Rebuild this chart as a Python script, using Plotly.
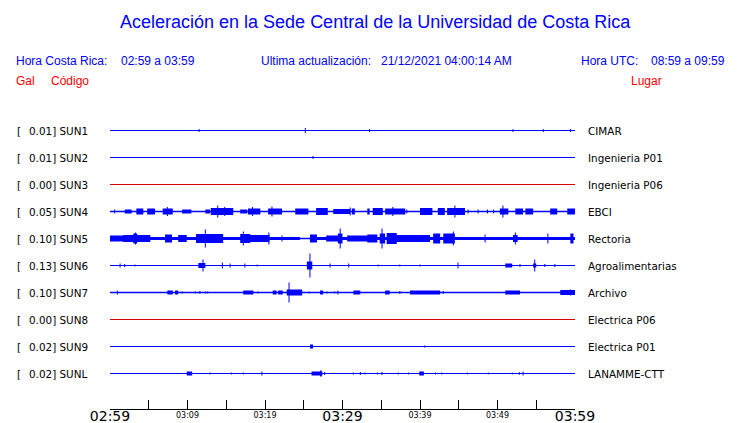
import plotly.graph_objects as go

# ---------------- data ----------------
# time axis: minutes after 02:59 (Hora Costa Rica)
TICK_MINUTES = list(range(0, 61, 5))
MAJOR_TICKS = [0, 30, 60]
MAJOR_LABELS = ["02:59", "03:29", "03:59"]
MINOR_TICKS = [10, 20, 40, 50]
MINOR_LABELS = ["03:09", "03:19", "03:39", "03:49"]

CODES = ["SUN1", "SUN2", "SUN3", "SUN4", "SUN5", "SUN6", "SUN7", "SUN8", "SUN9", "SUNL"]
GAL = [0.01, 0.01, 0.00, 0.05, 0.10, 0.13, 0.10, 0.00, 0.02, 0.02]
PLACES = ["CIMAR", "Ingenieria P01", "Ingenieria P06", "EBCI", "Rectoria",
          "Agroalimentarias", "Archivo", "Electrica P06", "Electrica P01", "LANAMME-CTT"]
ONLINE = [True, True, False, True, True, True, True, False, True, True]

# bursts: (start minute, end minute, half amplitude in Gal)
BURSTS_SUN1 = [(11.5, 11.5, 0.015), (25.2, 25.2, 0.025), (33.5, 33.5, 0.015),
               (52.0, 52.0, 0.015), (55.9, 55.9, 0.015), (59.4, 59.4, 0.015)]
BURSTS_SUN2 = [(26.2, 26.2, 0.015)]
BURSTS_SUN3 = []
BURSTS_SUN4 = [(0.6, 0.6, 0.02), (1.9, 2.8, 0.02), (3.4, 4.3, 0.03), (4.8, 5.8, 0.03),
               (6.8, 8.1, 0.03), (7.4, 7.4, 0.045), (9.3, 10.5, 0.02), (12.3, 12.9, 0.02),
               (13.0, 15.9, 0.035), (13.9, 13.9, 0.06), (14.8, 14.8, 0.045),
               (16.8, 17.7, 0.02), (17.8, 19.4, 0.03), (18.4, 18.4, 0.045),
               (20.4, 22.2, 0.03), (20.9, 20.9, 0.05), (23.9, 25.6, 0.03),
               (26.6, 28.1, 0.035), (28.8, 31.0, 0.025), (31.0, 31.0, 0.04),
               (31.2, 31.6, 0.03), (33.2, 33.5, 0.03), (33.9, 35.2, 0.035),
               (35.5, 38.1, 0.03), (36.5, 36.5, 0.045), (38.3, 38.3, 0.02),
               (40.0, 41.6, 0.035), (42.3, 43.2, 0.035), (43.5, 45.8, 0.035),
               (44.5, 44.5, 0.06), (46.2, 46.2, 0.02), (47.5, 47.5, 0.02),
               (48.7, 48.7, 0.02), (49.5, 49.5, 0.02), (50.3, 51.4, 0.03),
               (50.7, 50.7, 0.06), (52.3, 53.3, 0.03), (53.6, 54.6, 0.03),
               (56.8, 57.7, 0.03), (59.0, 60.0, 0.03)]
BURSTS_SUN5 = [(0.0, 24.5, 0.015), (25.8, 60.0, 0.015),
               (0.0, 1.7, 0.03), (1.7, 3.0, 0.035), (3.0, 3.5, 0.05), (3.3, 3.3, 0.06),
               (3.5, 5.2, 0.035), (7.1, 8.0, 0.04), (8.8, 9.9, 0.035),
               (11.1, 12.9, 0.045), (12.3, 12.3, 0.09), (12.9, 14.6, 0.045),
               (16.8, 18.1, 0.045), (17.2, 17.2, 0.07), (18.1, 20.6, 0.035),
               (20.5, 20.5, 0.06), (22.2, 22.2, 0.03), (25.8, 26.7, 0.04),
               (27.9, 29.7, 0.03), (29.4, 30.0, 0.05), (29.7, 29.7, 0.10),
               (30.6, 33.2, 0.03), (33.2, 34.5, 0.04), (35.1, 35.1, 0.10),
               (34.8, 35.5, 0.05), (35.7, 37.0, 0.055), (37.0, 41.3, 0.035),
               (41.7, 42.6, 0.05), (43.0, 44.5, 0.05), (44.3, 44.3, 0.07),
               (48.4, 48.4, 0.04), (52.0, 52.6, 0.035), (52.3, 52.3, 0.06),
               (56.5, 56.5, 0.05), (59.4, 59.8, 0.05)]
BURSTS_SUN6 = [(1.3, 1.3, 0.02), (1.9, 1.9, 0.015), (3.2, 3.2, 0.01),
               (11.4, 12.3, 0.025), (12.0, 12.0, 0.06), (14.5, 14.5, 0.03),
               (15.5, 15.5, 0.02), (17.4, 17.4, 0.02), (19.0, 19.0, 0.01),
               (25.4, 26.1, 0.04), (25.8, 25.8, 0.12), (28.4, 28.4, 0.02),
               (30.8, 30.8, 0.02), (34.6, 34.6, 0.01), (37.4, 37.4, 0.01),
               (40.0, 40.0, 0.01), (44.9, 44.9, 0.03), (51.0, 51.9, 0.02),
               (52.9, 52.9, 0.015), (54.6, 55.0, 0.02), (54.8, 54.8, 0.06),
               (56.1, 56.1, 0.015), (57.4, 57.4, 0.015)]
BURSTS_SUN7 = [(0.9, 1.0, 0.02), (7.4, 8.1, 0.02), (8.4, 8.8, 0.02), (9.3, 9.3, 0.01),
               (11.0, 11.0, 0.01), (11.6, 11.6, 0.015), (12.3, 12.3, 0.01),
               (12.6, 12.6, 0.01), (17.2, 18.5, 0.02), (19.1, 19.1, 0.01),
               (21.0, 21.5, 0.02), (21.7, 22.3, 0.02), (22.8, 23.5, 0.03),
               (23.1, 23.1, 0.10), (23.5, 24.8, 0.03), (25.7, 25.7, 0.01),
               (27.1, 27.5, 0.02), (28.0, 28.0, 0.01), (29.0, 29.0, 0.01),
               (29.4, 29.4, 0.02), (31.4, 32.3, 0.02), (35.5, 36.1, 0.02),
               (37.4, 37.4, 0.015), (38.7, 42.6, 0.02), (43.0, 43.0, 0.015),
               (51.0, 52.9, 0.02), (58.1, 60.0, 0.025), (59.4, 59.4, 0.03)]
BURSTS_SUN8 = []
BURSTS_SUN9 = [(25.8, 26.2, 0.02), (40.6, 40.6, 0.01)]
BURSTS_SUNL = [(9.9, 10.6, 0.02), (12.9, 12.9, 0.01), (15.7, 15.7, 0.01),
               (17.2, 17.2, 0.01), (19.6, 19.6, 0.02), (26.0, 27.4, 0.02),
               (27.1, 27.3, 0.03), (27.7, 27.7, 0.015), (31.4, 31.4, 0.01),
               (32.3, 32.3, 0.015), (32.9, 32.9, 0.01), (34.5, 34.5, 0.01),
               (35.1, 35.1, 0.015), (37.2, 37.2, 0.01), (38.5, 38.5, 0.01),
               (39.9, 40.5, 0.02), (42.0, 42.0, 0.01), (42.8, 42.8, 0.01),
               (46.1, 46.1, 0.01), (48.8, 48.8, 0.01), (51.9, 51.9, 0.01),
               (52.8, 52.8, 0.015), (53.3, 53.3, 0.02)]
BURSTS = [BURSTS_SUN1, BURSTS_SUN2, BURSTS_SUN3, BURSTS_SUN4, BURSTS_SUN5,
          BURSTS_SUN6, BURSTS_SUN7, BURSTS_SUN8, BURSTS_SUN9, BURSTS_SUNL]

TITLE = "Aceleración en la Sede Central de la Universidad de Costa Rica"
HORA_CR = "02:59 a 03:59"
HORA_UTC = "08:59 a 09:59"
UPDATED = "21/12/2021 04:00:14 AM"

# ---------------- style ----------------
BLUE = "#0000ff"
RED = "#ff0000"
TRACE_RED = "#e00000"
ROW = 0.27          # vertical offset between traces (Gal)
BASE_W = [1, 1, 1, 1.5, 1.5, 1, 1.5, 1, 1, 1]
MIN_HALF_WIDTH = 0.065   # minutes (~half a pixel)
W, H = 740, 423
L, R, T, B = 110, 165, 100, 14
PW, PH = W - L - R, H - T - B
FIRST_ROW_PX = 130.5     # pixel of first baseline (pixel centre for crisp lines)
ROW_PX = 27


def px_x(px):
    return (px - L) / PW


def px_y(py):
    return (H - B - py) / PH


fig = go.Figure()
for i, code in enumerate(CODES):
    base = -i * ROW
    color = BLUE if ONLINE[i] else TRACE_RED
    fig.add_trace(go.Scatter(x=[0, 60], y=[base, base], mode="lines",
                             line=dict(color=color, width=BASE_W[i]),
                             hoverinfo="skip", showlegend=False))
    xs, ys = [], []
    for t0, t1, a in BURSTS[i]:
        if t1 - t0 < 2 * MIN_HALF_WIDTH:
            c = (t0 + t1) / 2
            t0, t1 = c - MIN_HALF_WIDTH, c + MIN_HALF_WIDTH
        xs += [t0, t1, t1, t0, t0, None]
        ys += [base - a, base - a, base + a, base + a, base - a, None]
    if xs:
        fig.add_trace(go.Scatter(x=xs, y=ys, mode="lines", fill="toself",
                                 fillcolor=color, line=dict(color=color, width=0),
                                 hoverinfo="skip", showlegend=False))

# dummy trace for the secondary (minor-label) axis
fig.add_trace(go.Scatter(x=[0, 60], y=[0, 0], xaxis="x2", mode="markers",
                         marker=dict(opacity=0), hoverinfo="skip", showlegend=False))

ann = []
lab_font = dict(family="DejaVu Sans", size=10.4, color="black")
for i, code in enumerate(CODES):
    base = -i * ROW
    ann.append(dict(x=px_x(15), y=base, xref="paper", yref="y", text="[",
                    showarrow=False, xanchor="left", yanchor="middle", font=lab_font))
    ann.append(dict(x=px_x(27), y=base, xref="paper", yref="y",
                    text=f"{GAL[i]:.2f}] {code}",
                    showarrow=False, xanchor="left", yanchor="middle", font=lab_font))
    ann.append(dict(x=px_x(586), y=base, xref="paper", yref="y", text=PLACES[i],
                    showarrow=False, xanchor="left", yanchor="middle", font=lab_font))

hfont = dict(family="Liberation Sans", size=12, color=BLUE)
rfont = dict(family="Liberation Sans", size=12, color=RED)
heads = [
    (15, 61, "Hora Costa Rica:", hfont), (120, 61, HORA_CR, hfont),
    (260, 61, "Ultima actualización:", hfont), (380, 61, UPDATED, hfont),
    (580, 61, "Hora UTC:", hfont), (650, 61, HORA_UTC, hfont),
    (15, 81, "Gal", rfont), (50, 81, "Código", rfont), (630, 81, "Lugar", rfont),
]
for px, py, txt, f in heads:
    ann.append(dict(x=px_x(px), y=px_y(py), xref="paper", yref="paper", text=txt,
                    showarrow=False, xanchor="left", yanchor="middle", font=f,
                    borderpad=0))
ann.append(dict(x=px_x(375), y=px_y(22), xref="paper", yref="paper", text=TITLE,
                showarrow=False, xanchor="center", yanchor="middle",
                font=dict(family="Liberation Sans", size=18, color=BLUE)))

major_text = [MAJOR_LABELS[MAJOR_TICKS.index(m)] if m in MAJOR_TICKS else ""
              for m in TICK_MINUTES]

y_top = (FIRST_ROW_PX - T) / ROW_PX * ROW
y_bot = -(H - B - FIRST_ROW_PX) / ROW_PX * ROW

fig.update_layout(
    width=W, height=H,
    margin=dict(l=L, r=R, t=T, b=B, autoexpand=False),
    paper_bgcolor="white", plot_bgcolor="white",
    showlegend=False,
    annotations=ann,
    xaxis=dict(range=[0, 60], tickvals=TICK_MINUTES, ticktext=major_text,
               ticks="inside", ticklen=9, tickwidth=1, tickcolor="black",
               ticklabelstandoff=-6,
               showline=True, linecolor="black", linewidth=1,
               showgrid=False, zeroline=False, fixedrange=True,
               tickfont=dict(family="DejaVu Sans", size=14, color="black")),
    xaxis2=dict(range=[0, 60], overlaying="x", anchor="y", side="bottom",
                tickvals=MINOR_TICKS, ticktext=MINOR_LABELS, ticks="",
                showline=False, showgrid=False, zeroline=False,
                tickfont=dict(family="DejaVu Sans", size=8, color="black")),
    yaxis=dict(range=[y_bot, y_top], visible=False, fixedrange=True),
)

fig.write_html("out.html", config={"displayModeBar": False},
               post_script="document.body.style.margin='0px';document.body.style.overflow='hidden';")
